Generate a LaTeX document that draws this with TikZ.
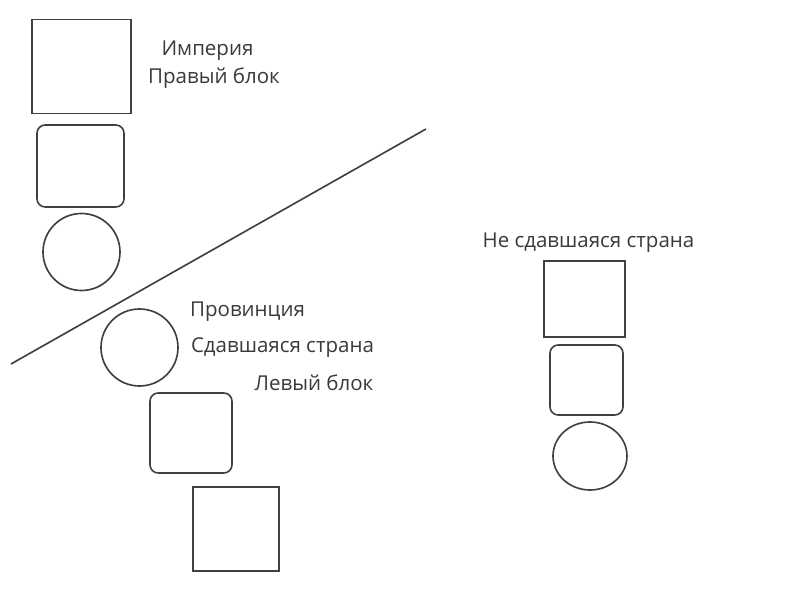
\documentclass[tikz,border=0pt]{standalone}
\usepackage{fontspec}
\setmainfont{Open Sans}
\definecolor{linegray}{HTML}{404040}
\definecolor{textgray}{HTML}{3A3A3A}
\usetikzlibrary{shapes.geometric}
\tikzset{
  figure/.style={draw=linegray, line width=1.4pt, inner sep=0pt},
  sqbox/.style={figure, rectangle},
  rndbox/.style={figure, rectangle, rounded corners=7pt},
  circ/.style={figure, circle},
  oval/.style={figure, ellipse},
  lbl/.style={text=textgray, inner sep=0pt, font=\fontsize{17.5}{20}\selectfont},
}
\begin{document}
\begin{tikzpicture}[x=0.03cm, y=-0.03cm]
\useasboundingbox (0,0) rectangle (800,600);
% Империя
\node[sqbox, minimum width=2.97cm, minimum height=2.82cm] (impsq) at (81.5,66.5) {};
\node[rndbox, minimum width=2.61cm, minimum height=2.46cm] (imprnd) at (80.5,166) {};
\node[circ, minimum size=2.31cm] (impcirc) at (81.5,252) {};
\node[lbl] (impname) at (207.5,51) {Империя};
\node[lbl] (impblock) at (214,78) {Правый блок};
% граница
\coordinate (bordA) at (11,364);
\coordinate (bordB) at (426,129);
\draw[linegray, line width=1.4pt] (bordA) -- (bordB);
% Провинция
\node[circ, minimum size=2.31cm] (provcirc) at (139.5,347.5) {};
\node[rndbox, minimum width=2.46cm, minimum height=2.4cm] (provrnd) at (191,433) {};
\node[sqbox, minimum width=2.58cm, minimum height=2.52cm] (provsq) at (236,529) {};
\node[lbl] (provname) at (247.5,312) {Провинция};
\node[lbl] (provstate) at (282.5,348) {Сдавшаяся страна};
\node[lbl] (provblock) at (314,383) {Левый блок};
% Не сдавшаяся страна
\node[lbl] (freename) at (588.5,243) {Не сдавшаяся страна};
\node[sqbox, minimum width=2.43cm, minimum height=2.28cm] (freesq) at (584.5,299) {};
\node[rndbox, minimum width=2.19cm, minimum height=2.1cm] (freernd) at (586.5,380) {};
\node[oval, minimum width=2.22cm, minimum height=2.04cm] (freeoval) at (590,456) {};
\end{tikzpicture}
\end{document}
